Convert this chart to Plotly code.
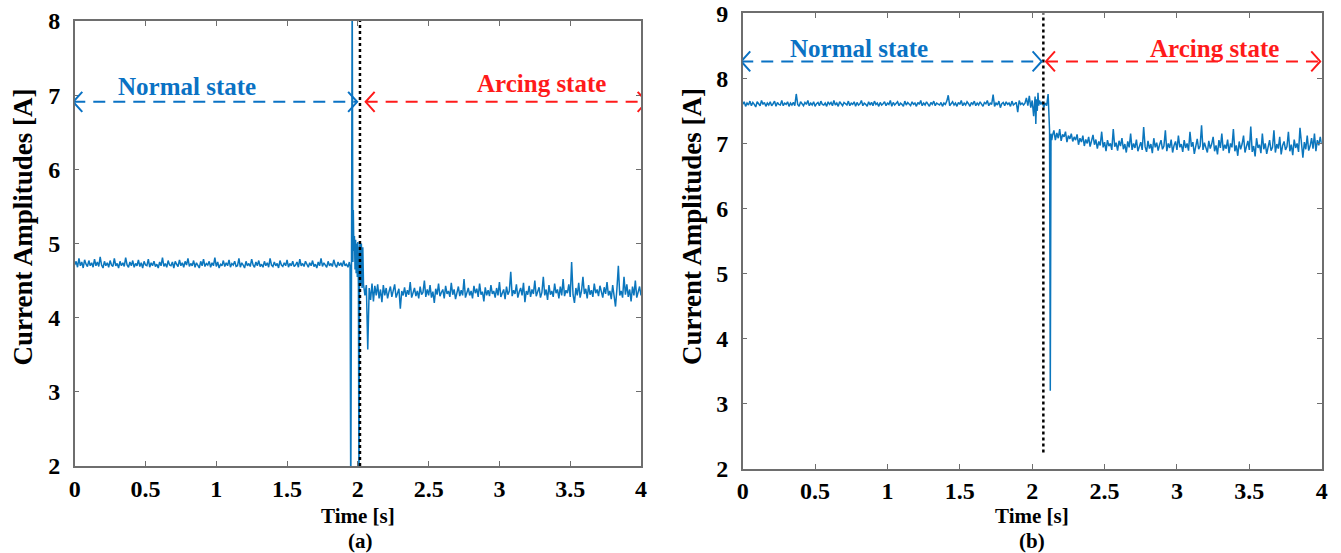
import numpy as np
import plotly.graph_objects as go

# ---------------- data ----------------
# Panel (a): sampling grid start / step for the regular segments
a_normal_t0, a_normal_dt = 0.0, 0.01
a_normal_values = [
    4.71, 4.76, 4.68, 4.80, 4.70, 4.75, 4.67, 4.78, 4.72, 4.69, 4.77, 4.70, 4.74, 4.68, 4.79,
    4.70, 4.75, 4.69, 4.82, 4.71, 4.67, 4.76, 4.70, 4.74, 4.68, 4.77, 4.71, 4.69, 4.80, 4.70,
    4.73, 4.67, 4.76, 4.70, 4.74, 4.69, 4.81, 4.71, 4.68, 4.75, 4.70, 4.77, 4.68, 4.73, 4.70,
    4.78, 4.69, 4.74, 4.67, 4.76, 4.71, 4.70, 4.79, 4.68, 4.74, 4.70, 4.76, 4.69, 4.72, 4.67,
    4.75, 4.70, 4.81, 4.69, 4.73, 4.68, 4.77, 4.71, 4.70, 4.75, 4.67, 4.76, 4.72, 4.69, 4.78,
    4.70, 4.74, 4.68, 4.76, 4.71, 4.80, 4.69, 4.73, 4.70, 4.77, 4.68, 4.74, 4.71, 4.67, 4.76,
    4.70, 4.79, 4.69, 4.73, 4.71, 4.76, 4.68, 4.74, 4.70, 4.81, 4.69, 4.75, 4.67, 4.72, 4.70,
    4.77, 4.69, 4.74, 4.70, 4.78, 4.68, 4.73, 4.71, 4.76, 4.69, 4.70, 4.80, 4.68, 4.74, 4.71,
    4.67, 4.76, 4.70, 4.73, 4.69, 4.79, 4.71, 4.68, 4.75, 4.70, 4.77, 4.69, 4.72, 4.68, 4.76,
    4.70, 4.74, 4.68, 4.80, 4.71, 4.69, 4.75, 4.70, 4.73, 4.67, 4.77, 4.71, 4.69, 4.74, 4.70,
    4.78, 4.68, 4.73, 4.70, 4.76, 4.69, 4.71, 4.75, 4.68, 4.79, 4.70, 4.73, 4.69, 4.76, 4.71,
    4.68, 4.74, 4.70, 4.77, 4.69, 4.72, 4.67, 4.75, 4.70, 4.80, 4.69, 4.74, 4.71, 4.68, 4.76,
    4.70, 4.73, 4.69, 4.78, 4.71, 4.68, 4.75, 4.70, 4.74, 4.69, 4.77, 4.70, 4.72, 4.68, 4.75,
]
a_transient_t = [1.945, 1.950, 1.955, 1.960, 1.965, 1.968, 1.972, 1.976, 1.980, 1.984, 1.988,
                 1.992, 1.996, 2.000, 2.004, 2.008, 2.012, 2.016, 2.020, 2.025, 2.030, 2.035]
a_transient_values = [4.70, 1.50, 4.60, 8.60, 4.75, 5.45, 4.90, 5.10, 4.65, 5.05, 4.60,
                      5.00, 4.55, 5.02, 4.40, 1.50, 4.95, 5.00, 4.45, 5.00, 4.40, 4.95]
a_arc_t0, a_arc_dt = 2.04, 0.01
a_arc_values = [
    4.45, 4.30, 4.44, 3.57, 4.40, 4.24, 4.46, 4.22, 4.43, 4.30, 4.45, 4.26, 4.38, 4.21, 4.44,
    4.30, 4.40, 4.26, 4.35, 4.42, 4.28, 4.36, 4.45, 4.27, 4.33, 4.39, 4.12, 4.36, 4.30, 4.41,
    4.28, 4.37, 4.31, 4.48, 4.27, 4.35, 4.40, 4.29, 4.36, 4.26, 4.42, 4.31, 4.34, 4.50, 4.28,
    4.38, 4.30, 4.44, 4.27, 4.35, 4.20, 4.39, 4.31, 4.46, 4.29, 4.34, 4.38, 4.26, 4.43, 4.32,
    4.36, 4.28, 4.47, 4.31, 4.38, 4.25, 4.34, 4.42, 4.29, 4.37, 4.30, 4.52, 4.27, 4.35, 4.40,
    4.30, 4.36, 4.26, 4.43, 4.33, 4.39, 4.28, 4.46, 4.31, 4.35, 4.22, 4.41, 4.30, 4.37, 4.29,
    4.44, 4.32, 4.36, 4.27, 4.40, 4.30, 4.48, 4.28, 4.34, 4.38, 4.25, 4.42, 4.31, 4.36, 4.62,
    4.29, 4.37, 4.32, 4.45, 4.27, 4.35, 4.40, 4.30, 4.47, 4.21, 4.36, 4.31, 4.43, 4.28, 4.38,
    4.32, 4.50, 4.29, 4.36, 4.41, 4.27, 4.34, 4.55, 4.30, 4.38, 4.24, 4.44, 4.31, 4.36, 4.28,
    4.46, 4.33, 4.38, 4.26, 4.42, 4.30, 4.52, 4.29, 4.37, 4.33, 4.45, 4.28, 4.75, 4.31, 4.20,
    4.40, 4.30, 4.47, 4.27, 4.36, 4.55, 4.32, 4.39, 4.26, 4.44, 4.31, 4.37, 4.28, 4.46, 4.33,
    4.38, 4.29, 4.43, 4.35, 4.27, 4.41, 4.32, 4.48, 4.30, 4.36, 4.25, 4.44, 4.31, 4.15, 4.39,
    4.70, 4.30, 4.36, 4.27, 4.55, 4.31, 4.45, 4.28, 4.38, 4.22, 4.42, 4.30, 4.50, 4.27, 4.36,
    4.42, 4.30,
]

# Panel (b)
b_normal_t0, b_normal_dt = 0.0, 0.01
b_normal_values = [
    7.60, 7.64, 7.57, 7.62, 7.59, 7.65, 7.58, 7.63, 7.60, 7.56, 7.64, 7.61, 7.58, 7.66, 7.60,
    7.63, 7.57, 7.62, 7.59, 7.64, 7.58, 7.61, 7.65, 7.57, 7.63, 7.60, 7.59, 7.66, 7.58, 7.62,
    7.60, 7.64, 7.57, 7.62, 7.59, 7.63, 7.58, 7.76, 7.60, 7.57, 7.64, 7.61, 7.58, 7.63, 7.60,
    7.66, 7.58, 7.62, 7.59, 7.64, 7.57, 7.61, 7.63, 7.58, 7.65, 7.60, 7.59, 7.62, 7.57, 7.64,
    7.60, 7.63, 7.58, 7.66, 7.59, 7.62, 7.57, 7.64, 7.60, 7.58, 7.63, 7.61, 7.59, 7.65, 7.58,
    7.62, 7.60, 7.64, 7.57, 7.63, 7.59, 7.61, 7.66, 7.58, 7.62, 7.60, 7.57, 7.64, 7.59, 7.63,
    7.58, 7.65, 7.60, 7.62, 7.57, 7.63, 7.59, 7.61, 7.64, 7.58, 7.62, 7.60, 7.66, 7.57, 7.63,
    7.59, 7.61, 7.64, 7.58, 7.62, 7.60, 7.57, 7.65, 7.59, 7.63, 7.61, 7.58, 7.64, 7.60, 7.62,
    7.57, 7.63, 7.60, 7.66, 7.58, 7.62, 7.59, 7.64, 7.61, 7.57, 7.63, 7.60, 7.65, 7.58, 7.62,
    7.60, 7.59, 7.63, 7.57, 7.62, 7.60, 7.65, 7.74, 7.58, 7.61, 7.64, 7.59, 7.62, 7.57, 7.63,
    7.60, 7.66, 7.58, 7.62, 7.59, 7.64, 7.61, 7.57, 7.63, 7.60, 7.65, 7.58, 7.62, 7.59, 7.64,
    7.60, 7.57, 7.63, 7.61, 7.66, 7.58, 7.62, 7.60, 7.75, 7.57, 7.62, 7.59, 7.65, 7.55, 7.61,
    7.63, 7.58, 7.64, 7.60, 7.62, 7.57, 7.65, 7.59, 7.61, 7.63, 7.48, 7.66, 7.60, 7.62, 7.59,
]
b_transient_t = [1.95, 1.96, 1.97, 1.98, 1.99, 2.00, 2.01, 2.02, 2.025, 2.03, 2.035, 2.04, 2.045,
                 2.05, 2.06, 2.07, 2.08, 2.09, 2.10, 2.11, 2.115, 2.12, 2.125, 2.13, 2.135]
b_transient_values = [7.62, 7.70, 7.58, 7.73, 7.55, 7.66, 7.42, 7.72, 7.30, 7.68, 7.50, 7.78, 7.58,
                      7.66, 7.60, 7.64, 7.55, 7.62, 7.58, 7.76, 7.40, 7.20, 3.20, 7.15, 7.05]
b_arc_t0, b_arc_dt = 2.14, 0.01
b_arc_values = [
    7.12, 7.20, 7.05, 7.16, 7.08, 7.22, 7.04, 7.14, 7.10, 7.18, 7.02, 7.12, 7.07, 7.15, 7.03,
    7.10, 7.05, 7.14, 6.98, 7.08, 7.02, 7.12, 6.96, 7.06, 7.00, 7.10, 6.95, 7.04, 7.13, 6.98,
    7.06, 6.92, 7.03, 6.97, 7.18, 6.94, 7.02, 6.88, 7.05, 6.96, 7.00, 6.90, 7.22, 6.95, 7.01,
    6.89, 7.04, 6.96, 7.08, 6.91, 6.99, 6.86, 7.03, 6.94, 7.15, 6.90, 7.00, 6.93, 7.06, 6.88,
    6.97, 7.02, 6.90, 7.25, 6.95, 6.87, 7.04, 6.92, 6.99, 6.85, 7.08, 6.94, 7.01, 6.89, 6.98,
    7.05, 6.91, 6.96, 7.20, 6.88, 7.00, 6.93, 7.06, 6.86, 6.97, 7.03, 6.90, 7.12, 6.94, 6.99,
    6.87, 7.05, 6.93, 7.00, 6.89, 7.18, 6.95, 7.02, 6.84, 6.98, 7.07, 6.91, 6.96, 7.28, 6.90,
    7.01, 6.94, 6.86, 7.04, 6.92, 6.99, 7.10, 6.88, 6.97, 6.83, 7.05, 6.93, 7.15, 6.89, 6.98,
    6.92, 7.06, 6.85, 7.00, 6.94, 7.22, 6.88, 6.97, 6.81, 7.03, 6.91, 6.99, 7.12, 6.86, 6.95,
    7.04, 6.90, 7.26, 6.87, 6.96, 6.80, 7.08, 6.93, 6.98, 6.85, 7.15, 6.91, 7.00, 6.84, 6.97,
    7.05, 6.89, 6.94, 7.20, 6.86, 6.99, 6.92, 7.10, 6.83, 6.97, 7.03, 6.90, 6.95, 7.18, 6.88,
    6.98, 6.82, 7.06, 6.93, 7.00, 6.87, 7.24, 6.95, 6.78, 7.02, 6.91, 7.12, 6.89, 6.96, 7.08,
    6.92, 7.15, 6.88, 7.05, 6.97, 7.10, 6.99,
]

x_tickvals = [0, 0.5, 1, 1.5, 2, 2.5, 3, 3.5, 4]
x_ticktext = ["0", "0.5", "1", "1.5", "2", "2.5", "3", "3.5", "4"]
a_y_tickvals = [2, 3, 4, 5, 6, 7, 8]
b_y_tickvals = [2, 3, 4, 5, 6, 7, 8, 9]

# event markers / annotation anchors
a_event_t = 2.015
b_event_t = 2.077
a_arrow_y = 6.91
b_arrow_y = 8.26

# ---------------- helpers ----------------
def grid(t0, dt, vals):
    return [round(t0 + i * dt, 4) for i in range(len(vals))]

a_t = grid(a_normal_t0, a_normal_dt, a_normal_values) + a_transient_t + grid(a_arc_t0, a_arc_dt, a_arc_values)
a_v = a_normal_values + a_transient_values + a_arc_values
b_t = grid(b_normal_t0, b_normal_dt, b_normal_values) + b_transient_t + grid(b_arc_t0, b_arc_dt, b_arc_values)
b_v = b_normal_values + b_transient_values + b_arc_values

SIG = "#0b76bd"
BLUE = "#0a72c4"
RED = "#ff1a1a"
FONT = "Liberation Serif, Times New Roman, serif"
AX = "#6e6e6e"

fig = go.Figure()
fig.add_trace(go.Scatter(x=a_t, y=a_v, mode="lines", line=dict(color=SIG, width=1.5),
                         xaxis="x", yaxis="y", hoverinfo="skip"))
fig.add_trace(go.Scatter(x=b_t, y=b_v, mode="lines", line=dict(color=SIG, width=1.5),
                         xaxis="x2", yaxis="y2", hoverinfo="skip"))

W, H = 1341, 553
def axis_common():
    return dict(showline=True, linecolor=AX, linewidth=1.5, mirror="ticks",
                ticks="inside", ticklen=5, tickwidth=1, tickcolor=AX,
                showgrid=False, zeroline=False, automargin=False,
                tickfont=dict(family=FONT, size=24, color="black", weight="bold"))

xa = axis_common(); xa.update(domain=[74.7 / W, 641 / W], range=[0, 4], tickvals=x_tickvals,
                              ticktext=x_ticktext, anchor="y", ticklabelstandoff=0)
ya = axis_common(); ya.update(domain=[(H - 466) / H, (H - 21) / H], range=[2, 8],
                              tickvals=a_y_tickvals, anchor="x", ticklabelstandoff=8)
xb = axis_common(); xb.update(domain=[742.7 / W, 1321.7 / W], range=[0, 4], tickvals=x_tickvals,
                              ticktext=x_ticktext, anchor="y2", ticklabelstandoff=0)
yb = axis_common(); yb.update(domain=[(H - 468.7) / H, (H - 13.3) / H], range=[2, 9],
                              tickvals=b_y_tickvals, anchor="x2", ticklabelstandoff=8)

shapes = []
annotations = []

def dotted(xref, yref, xv, y0, y1):
    shapes.append(dict(type="line", xref=xref, yref=yref, x0=xv, x1=xv, y0=y0, y1=y1,
                       line=dict(color="black", width=2.5, dash="dot"), layer="above"))

def chevron(xref, yref, xv, yv, direction, color):
    s = 9 if direction == "left" else -9
    shapes.append(dict(type="path", xref=xref, yref=yref, xsizemode="pixel", ysizemode="pixel",
                       xanchor=xv, yanchor=yv, path=f"M {s},10 L 0,0 L {s},-10",
                       line=dict(color=color, width=2), layer="above"))

def dbl_arrow(xref, yref, x0, x1, yv, color):
    shapes.append(dict(type="line", xref=xref, yref=yref, x0=x0, x1=x1, y0=yv, y1=yv,
                       line=dict(color=color, width=2, dash="12px,8px"), layer="above"))
    chevron(xref, yref, x0, yv, "left", color)
    chevron(xref, yref, x1, yv, "right", color)

# panel (a)
dotted("x", "y", a_event_t, 2, 8)
dbl_arrow("x", "y", -0.01, 1.995, a_arrow_y, BLUE)
dbl_arrow("x", "y", 2.055, 4.04, a_arrow_y, RED)
# panel (b)
dotted("x2", "y2", b_event_t, 2.25, 9)
dbl_arrow("x2", "y2", -0.01, 2.065, b_arrow_y, BLUE)
dbl_arrow("x2", "y2", 2.095, 3.99, b_arrow_y, RED)

def txt(xref, yref, x, y, text, color, size=25, angle=0, yanchor="middle"):
    annotations.append(dict(xref=xref, yref=yref, x=x, y=y, text=text, showarrow=False,
                            textangle=angle, xanchor="center", yanchor=yanchor,
                            font=dict(family=FONT, size=size, color=color, weight="bold")))

txt("x", "y", 0.79, 7.12, "Normal state", BLUE)
txt("x", "y", 3.30, 7.16, "Arcing state", RED)
txt("x2", "y2", 0.80, 8.46, "Normal state", BLUE)
txt("x2", "y2", 3.26, 8.46, "Arcing state", RED)

# axis titles and panel labels
txt("paper", "paper", 22.5 / W, (H - 227) / H, "Current Amplitudes [A]", "black", 27, -90)
txt("paper", "paper", 692 / W, (H - 226) / H, "Current Amplitudes [A]", "black", 27, -90)
txt("paper", "paper", 358 / W, (H - 516) / H, "Time [s]", "black", 21)
txt("paper", "paper", 1031.6 / W, (H - 516) / H, "Time [s]", "black", 21)
txt("paper", "paper", 360 / W, (H - 540.5) / H, "(a)", "black", 21)
txt("paper", "paper", 1032 / W, (H - 540.5) / H, "(b)", "black", 21)

fig.update_layout(width=W, height=H, margin=dict(l=0, r=0, t=0, b=0),
                  paper_bgcolor="white", plot_bgcolor="white", showlegend=False,
                  xaxis=xa, yaxis=ya, xaxis2=xb, yaxis2=yb,
                  shapes=shapes, annotations=annotations)

fig.write_html("out.html")
